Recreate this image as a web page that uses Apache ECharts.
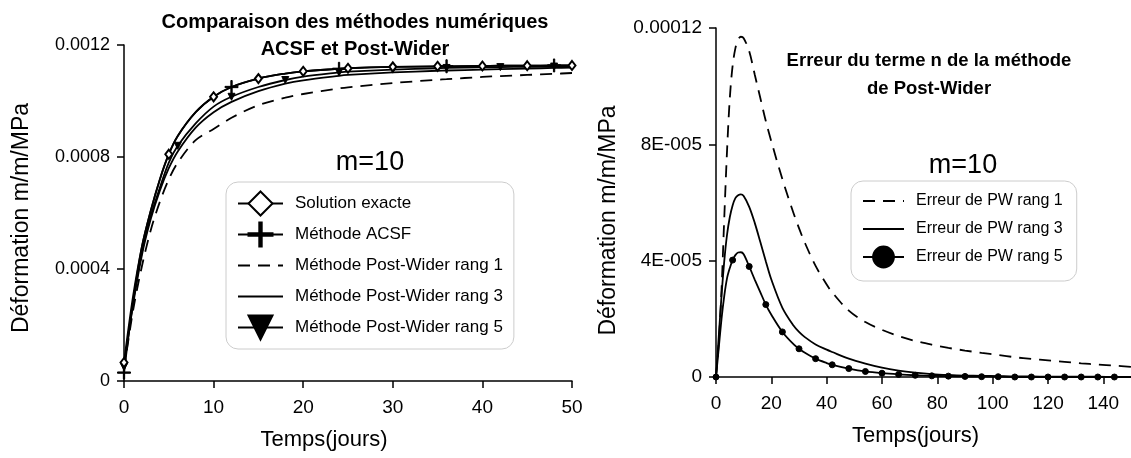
<!DOCTYPE html>
<html><head><meta charset="utf-8">
<script src="https://cdn.jsdelivr.net/npm/echarts@6/dist/echarts.min.js"></script>
<style>html,body{margin:0;padding:0;background:#fff}#c{width:1131px;height:458px}</style>
</head><body><div id="c"></div>
<script>
// ---- Left chart data ----
const tLeft  = [0,1,2,3,4,5,6,8,10,12,15,18,20,24,25,30,35,36,40,42,45,48,50];
const exacte = [0.000066,0.0003,0.00048,0.00061,0.00072,0.00081,0.000875,0.00096,0.001015,0.00105,0.00108,0.001098,0.001106,0.001115,0.001117,0.001122,0.001124,0.001124,0.001125,0.001126,0.001126,0.001127,0.001127];
const acsf   = [0.00003,0.00028,0.00048,0.00061,0.00072,0.00081,0.000875,0.00096,0.001015,0.00105,0.00108,0.001098,0.001106,0.001115,0.001117,0.001122,0.001124,0.001124,0.001125,0.001126,0.001126,0.001127,0.001127];
const pw1    = [0.00004,0.00025,0.00041,0.00054,0.00064,0.00072,0.00078,0.00086,0.0009,0.00094,0.000985,0.001012,0.001025,0.001045,0.001049,0.001064,0.001076,0.001078,0.001086,0.001089,0.001093,0.001097,0.0011];
const pw3    = [0.00005,0.00027,0.00045,0.00058,0.00068,0.00076,0.00082,0.000905,0.00096,0.000997,0.001035,0.001062,0.001074,0.00109,0.001093,0.001102,0.001108,0.001109,0.001112,0.001114,0.001116,0.001118,0.001119];
const pw5    = [0.00005,0.00028,0.00046,0.00059,0.00069,0.00078,0.00084,0.00092,0.00098,0.001015,0.00105,0.001075,0.001087,0.001102,0.001105,0.001112,0.001117,0.001118,0.00112,0.001121,0.001122,0.001123,0.001124];
const yLeftLabels = ['0','0.0004','0.0008','0.0012'];
const namesLeft = ['Solution exacte','Méthode ACSF','Méthode Post-Wider rang 1','Méthode Post-Wider rang 3','Méthode Post-Wider rang 5'];

// ---- Right chart data ----
const tRight = [0,1,2,3,4,5,6,7,8,9,10,12,14,16,18,20,24,28,30,32,36,40,42,48,54,60,66,72,78,84,90,96,102,108,114,120,126,132,138,144,150];
const err1 = [0,0.000012,0.00003,0.000055,0.000078,0.000096,0.000107,0.000113,0.000116,0.000117,0.0001165,0.000112,0.000104,0.000096,0.000088,0.000081,0.000068,0.0000564,0.0000512,0.0000464,0.0000382,0.0000318,0.0000291,0.0000228,0.0000189,0.0000162,0.0000141,0.0000124,0.0000111,0.00001,0.0000091,0.0000083,0.0000076,0.0000068,0.0000062,0.0000057,0.0000052,0.0000047,0.0000043,0.0000039,0.0000035];
const err3 = [0,0.000014,0.000028,0.00004,0.000049,0.000055,0.000059,0.0000615,0.0000625,0.0000628,0.0000622,0.0000585,0.000053,0.0000465,0.0000398,0.0000335,0.0000238,0.0000177,0.0000155,0.0000138,0.0000112,0.0000094,0.0000086,0.0000063,0.0000046,0.0000032,0.0000022,0.0000015,0.000001,0.0000007,0.0000005,0.0000004,0.0000003,0.0000002,0.0000002,0.0000001,0.0000001,0.0000001,0.0000001,0,0];
const err5 = [0,0.00001,0.00002,0.000028,0.000034,0.0000375,0.0000402,0.0000419,0.0000428,0.0000429,0.0000422,0.000038,0.0000335,0.0000292,0.0000249,0.0000214,0.0000155,0.0000113,0.0000097,0.0000084,0.0000063,0.0000048,0.0000042,0.0000029,0.0000019,0.0000013,0.0000009,0.0000006,0.0000004,0.0000003,0.0000002,0.0000001,0.0000001,0,0,0,0,0,0,0,0];
const yRightLabels = ['0','4E-005','8E-005','0.00012'];
const namesRight = ['Erreur de PW rang 1','Erreur de PW rang 3','Erreur de PW rang 5'];

const FONT = "'Liberation Sans', Arial, Helvetica, sans-serif";
const PLUS = 'path://M9,0h2v20h-2z M0,9h20v2h-20z';
const TRI_DOWN = 'path://M0,0L20,0L10,20Z';

function pts(ts, ys, step, maxT) {
  return ts.map((t, i) => {
    const item = { value: [t, ys[i]] };
    if (!step || t % step !== 0 || (maxT !== undefined && t >= maxT)) item.symbol = 'none';
    return item;
  });
}

function lineSeries(name, ts, ys, opts) {
  return Object.assign({
    name: name, type: 'line', smooth: 0.33,
    showAllSymbol: true, animation: false,
    lineStyle: { color: '#000', width: 1.8, type: opts.dash ? [12, 8] : 'solid' },
    itemStyle: { color: '#000', borderColor: '#000', borderWidth: 1 },
    data: pts(ts, ys, opts.step, opts.maxT)
  }, opts.extra || {});
}

const axisCommon = {
  axisLine: { lineStyle: { color: '#000', width: 1.5 } },
  axisTick: { length: 7, lineStyle: { color: '#000', width: 1.5 } },
  splitLine: { show: false },
  nameLocation: 'middle'
};
const nameStyle = (pad, size) => ({ fontSize: size || 22, color: '#000', fontFamily: FONT, padding: pad });

const noSym = { opacity: 0, color: 'rgba(0,0,0,0)', borderWidth: 0 };

const option = {
  animation: false,
  textStyle: { fontFamily: FONT, color: '#000' },
  title: [
    { text: 'Comparaison des méthodes numériques\nACSF et Post-Wider', left: 350, top: 4, textAlign: 'center',
      textStyle: { fontSize: 20, fontWeight: 'bold', lineHeight: 27, color: '#000', fontFamily: FONT } },
    { text: 'Erreur du terme n de la méthode\nde Post-Wider', left: 924, top: 42, textAlign: 'center',
      textStyle: { fontSize: 18.5, fontWeight: 'bold', lineHeight: 28, color: '#000', fontFamily: FONT } },
    { text: 'm=10', left: 365, top: 144, textAlign: 'center',
      textStyle: { fontSize: 27, fontWeight: 'normal', color: '#000', fontFamily: FONT } },
    { text: 'm=10', left: 958, top: 147, textAlign: 'center',
      textStyle: { fontSize: 27, fontWeight: 'normal', color: '#000', fontFamily: FONT } }
  ],
  legend: [
    { data: [
        { name: namesLeft[0] }, { name: namesLeft[1] },
        { name: namesLeft[2], itemStyle: noSym },
        { name: namesLeft[3], itemStyle: noSym },
        { name: namesLeft[4] }
      ],
      orient: 'vertical', left: 226, top: 182,
      itemWidth: 45, itemHeight: 30, itemGap: 0, padding: [6, 11, 6, 11],
      borderColor: '#cccccc', borderWidth: 1, borderRadius: 12, backgroundColor: '#fff',
      textStyle: { fontSize: 17, lineHeight: 31, color: '#000', fontFamily: FONT, padding: [0, 0, 0, 7] }, selectedMode: false },
    { data: [
        { name: namesRight[0], itemStyle: noSym },
        { name: namesRight[1], itemStyle: noSym },
        { name: namesRight[2] }
      ],
      orient: 'vertical', left: 851, top: 181,
      itemWidth: 41, itemHeight: 26, itemGap: 0, padding: [6, 14, 10, 11],
      borderColor: '#cccccc', borderWidth: 1, borderRadius: 12, backgroundColor: '#fff',
      textStyle: { fontSize: 16, lineHeight: 28, color: '#000', fontFamily: FONT, padding: [0, 0, 0, 7] }, selectedMode: false }
  ],
  grid: [
    { left: 124, top: 45, width: 448, height: 336 },
    { left: 716, top: 28, width: 415, height: 349 }
  ],
  xAxis: [
    Object.assign({}, axisCommon, { gridIndex: 0, type: 'value', min: 0, max: 50, interval: 10,
      name: 'Temps(jours)', nameGap: 48, nameTextStyle: nameStyle([0, 48, 0, 0]),
      axisLabel: { fontSize: 19, color: '#000', margin: 17, fontFamily: FONT } }),
    Object.assign({}, axisCommon, { gridIndex: 1, type: 'value', min: 0, max: 150, interval: 20,
      name: 'Temps(jours)', nameGap: 48, nameTextStyle: nameStyle([0, 16, 0, 0]),
      axisLabel: { fontSize: 19, color: '#000', margin: 17, fontFamily: FONT, showMaxLabel: false,
        formatter: v => (v % 20 === 0 ? String(v) : '') } })
  ],
  yAxis: [
    Object.assign({}, axisCommon, { gridIndex: 0, type: 'value', min: 0, max: 0.0012, interval: 0.0004,
      name: 'Déformation m/m/MPa', nameGap: 91, nameTextStyle: nameStyle([0, 10, 0, 0], 23),
      axisLabel: { fontSize: 18, color: '#000', margin: 14, fontFamily: FONT,
        formatter: v => yLeftLabels[Math.round(v / 0.0004)] } }),
    Object.assign({}, axisCommon, { gridIndex: 1, type: 'value', min: 0, max: 0.00012, interval: 0.00004,
      name: 'Déformation m/m/MPa', nameGap: 96, nameTextStyle: nameStyle([0, 36, 0, 0], 23),
      axisLabel: { fontSize: 19, color: '#000', margin: 14, fontFamily: FONT,
        formatter: v => yRightLabels[Math.round(v / 0.00004)] } })
  ],
  series: [
    lineSeries(namesLeft[2], tLeft, pw1, { dash: true, extra: { symbol: 'none', xAxisIndex: 0, yAxisIndex: 0 } }),
    lineSeries(namesLeft[3], tLeft, pw3, { extra: { symbol: 'none', xAxisIndex: 0, yAxisIndex: 0 } }),
    lineSeries(namesLeft[4], tLeft, pw5, { step: 6, extra: { symbol: TRI_DOWN, symbolSize: 7, xAxisIndex: 0, yAxisIndex: 0 } }),
    lineSeries(namesLeft[1], tLeft, acsf, { step: 12, extra: { symbol: PLUS, symbolSize: 13, xAxisIndex: 0, yAxisIndex: 0 } }),
    lineSeries(namesLeft[0], tLeft, exacte, { step: 5, extra: { symbol: 'emptyDiamond', symbolSize: [7, 9], xAxisIndex: 0, yAxisIndex: 0 } }),
    lineSeries(namesRight[0], tRight, err1, { dash: true, extra: { symbol: 'none', xAxisIndex: 1, yAxisIndex: 1 } }),
    lineSeries(namesRight[1], tRight, err3, { extra: { symbol: 'none', xAxisIndex: 1, yAxisIndex: 1 } }),
    lineSeries(namesRight[2], tRight, err5, { step: 6, maxT: 150, extra: { symbol: 'circle', symbolSize: 6, xAxisIndex: 1, yAxisIndex: 1 } })
  ]
};

const chart = echarts.init(document.getElementById('c'), null, { renderer: 'canvas' });
chart.setOption(option);
</script>
</body></html>
